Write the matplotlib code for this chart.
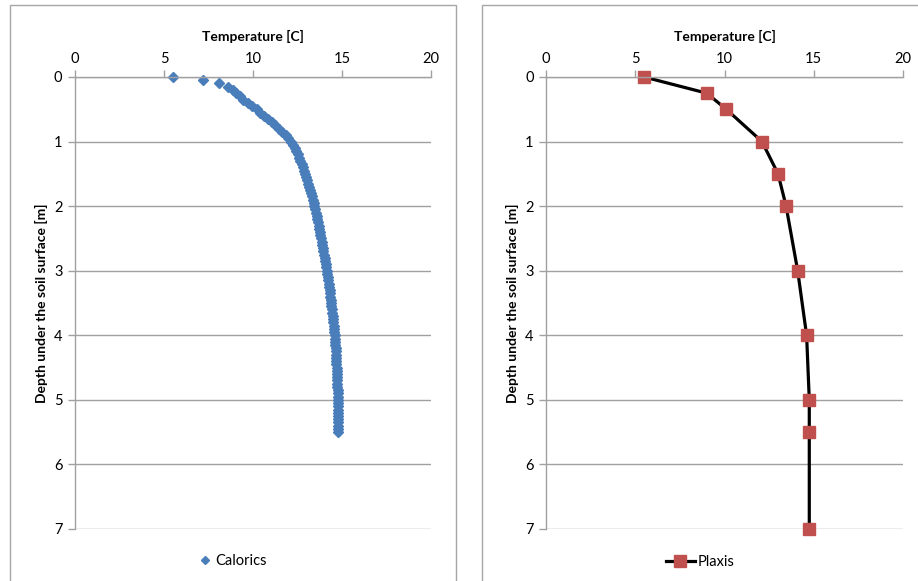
import numpy as np
import matplotlib
matplotlib.use("Agg")
import matplotlib.pyplot as plt
from matplotlib.patches import Rectangle

plt.rcParams['font.family'] = ['Lato', 'DejaVu Sans']

# Calorics: temperature every 0.05 m from 0 to 5.5 m
calorics_temp = [
    5.50, 7.20, 8.10, 8.60, 8.85, 9.05, 9.25, 9.45, 9.70, 9.95,
    10.20, 10.42, 10.62, 10.85, 11.05, 11.25, 11.45, 11.65, 11.83, 11.99,
    12.14, 12.25, 12.35, 12.44, 12.52, 12.59, 12.66, 12.73, 12.79, 12.85,
    12.91, 12.97, 13.03, 13.08, 13.14, 13.19, 13.25, 13.30, 13.35, 13.40,
    13.45, 13.49, 13.53, 13.57, 13.61, 13.65, 13.69, 13.72, 13.76, 13.79,
    13.83, 13.86, 13.89, 13.93, 13.96, 13.99, 14.02, 14.05, 14.08, 14.11,
    14.14, 14.17, 14.20, 14.22, 14.25, 14.27, 14.30, 14.32, 14.34, 14.36,
    14.38, 14.41, 14.43, 14.45, 14.47, 14.49, 14.51, 14.53, 14.55, 14.57,
    14.59, 14.60, 14.62, 14.63, 14.64, 14.65, 14.66, 14.67, 14.68, 14.69,
    14.70, 14.71, 14.72, 14.72, 14.73, 14.74, 14.74, 14.75, 14.75, 14.76,
    14.76, 14.77, 14.77, 14.78, 14.78, 14.78, 14.79, 14.79, 14.79, 14.80,
    14.80,
]
calorics_depth = np.round(np.arange(len(calorics_temp)) * 0.05, 2)

plaxis_depth = [0, 0.25, 0.5, 1.0, 1.5, 2.0, 3.0, 4.0, 5.0, 5.5, 7.0]
plaxis_temp = [5.5, 9.0, 10.1, 12.1, 13.0, 13.45, 14.1, 14.6, 14.75, 14.75, 14.75]

x_ticks = [0, 5, 10, 15, 20]
y_ticks = [0, 1, 2, 3, 4, 5, 6, 7]

W, H = 918, 581
fig = plt.figure(figsize=(W / 100, H / 100), dpi=100)

# chart area borders
for x0, x1 in [(10, 456), (482, 930)]:
    fig.patches.append(Rectangle((x0 / W, -0.05), (x1 - x0) / W, 1.05 - 5 / H,
                                 transform=fig.transFigure, fill=False,
                                 edgecolor='#a6a6a6', linewidth=1.0))

grey = '#a0a0a0'


def style(ax):
    ax.set_xlim(0, 20)
    ax.set_ylim(7, 0)
    ax.set_xticks(x_ticks)
    ax.set_yticks(y_ticks)
    ax.xaxis.tick_top()
    ax.xaxis.set_label_position('top')
    for s in ['right', 'bottom']:
        ax.spines[s].set_visible(False)
    for s in ['top', 'left']:
        ax.spines[s].set_color(grey)
        ax.spines[s].set_linewidth(1.0)
    ax.tick_params(axis='both', colors=grey, labelcolor='black', labelsize=10.5,
                   length=5, width=1.0, direction='out')
    ax.tick_params(axis='x', pad=3)
    ax.tick_params(axis='y', pad=4)
    ax.grid(axis='y', color=grey, linewidth=1.0)
    ax.set_axisbelow(True)
    ax.set_xlabel('Temperature [C]', fontsize=10, fontweight='bold', labelpad=8)
    ax.set_ylabel('Depth under the soil surface [m]', fontsize=10,
                  fontweight='bold', labelpad=4)


ax1 = fig.add_axes([75 / W, 1 - 529 / H, 356 / W, 452 / H])
style(ax1)
ax1.plot(calorics_temp, calorics_depth, linestyle='none', marker='D',
         markersize=5.5, color='#4a7ebb', label='Calorics', clip_on=False)
ax1.legend(loc='center', bbox_to_anchor=(233 / W, 1 - 561 / H),
           bbox_transform=fig.transFigure, frameon=False, fontsize=10.5,
           handlelength=0.8, handletextpad=0.3, markerscale=0.75)

ax2 = fig.add_axes([546 / W, 1 - 529 / H, 357 / W, 452 / H])
style(ax2)
ax2.plot(plaxis_temp, plaxis_depth, color='black', linewidth=2.3, marker='s',
         markersize=8, markerfacecolor='#c0504d', markeredgecolor='#c0504d',
         label='Plaxis', clip_on=False)
ax2.legend(loc='center', bbox_to_anchor=(700 / W, 1 - 562 / H),
           bbox_transform=fig.transFigure, frameon=False, fontsize=10.5,
           handlelength=2.0, handletextpad=0.2)

fig.savefig('out.png', dpi=100)
